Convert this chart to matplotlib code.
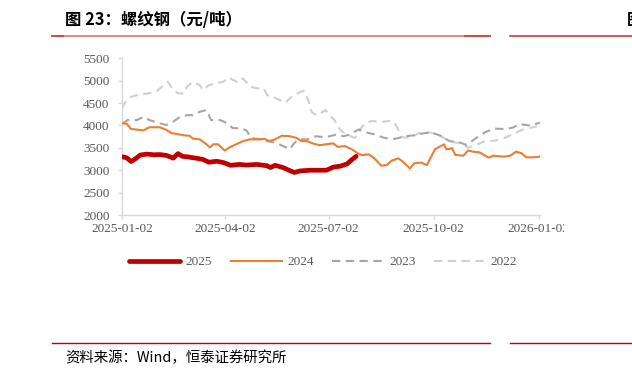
import numpy as np
import pandas as pd
import matplotlib.pyplot as plt
import matplotlib.dates as mdates
from matplotlib.transforms import Bbox, TransformedBbox

plt.rcParams['font.family'] = ['Noto Sans CJK SC', 'DejaVu Sans']

base = pd.Timestamp('2025-01-02')

# day offsets from 2025-01-02 (each year mapped onto the same calendar axis)
days_2025 = [0, 4, 8, 12, 16, 22, 28, 33, 39, 45, 49, 53, 57, 62, 67, 71, 76, 83, 89, 95,
             103, 109, 118, 127, 130, 134, 141, 147, 151, 156, 165, 173, 179, 185, 191,
             197, 201, 205]
vals_2025 = [3300, 3280, 3195, 3260, 3340, 3360, 3345, 3350, 3330, 3270, 3370, 3310, 3300,
             3280, 3260, 3240, 3180, 3200, 3170, 3110, 3130, 3115, 3130, 3100, 3060, 3110,
             3060, 2990, 2950, 2985, 3000, 3000, 3000, 3070, 3090, 3140, 3230, 3310]

days_2024 = [0, 4, 8, 16, 19, 24, 33, 39, 43, 48, 54, 59, 62, 68, 74, 77, 80, 84, 89, 90,
             94, 100, 106, 112, 121, 125, 129, 134, 140, 147, 153, 157, 162, 168, 173, 179,
             185, 189, 195, 201, 207, 210, 216, 221, 227, 232, 236, 242, 246, 252, 256,
             262, 267, 270, 274, 278, 282, 284, 289, 292, 299, 303, 307, 313, 321, 325,
             334, 340, 345, 350, 354, 360, 366]
vals_2024 = [4048, 4040, 3920, 3900, 3890, 3960, 3960, 3900, 3830, 3810, 3780, 3770, 3710,
             3690, 3580, 3510, 3580, 3580, 3460, 3440, 3510, 3580, 3650, 3690, 3690, 3700,
             3650, 3690, 3770, 3760, 3720, 3650, 3650, 3590, 3560, 3580, 3600, 3520, 3540,
             3470, 3370, 3340, 3355, 3266, 3100, 3115, 3213, 3266, 3190, 3043, 3155, 3170,
             3115, 3266, 3467, 3525, 3578, 3467, 3490, 3340, 3325, 3440, 3415, 3400, 3280,
             3325, 3303, 3325, 3415, 3378, 3288, 3288, 3303]

days_2023 = [0, 5, 13, 19, 24, 33, 39, 45, 51, 57, 62, 68, 74, 78, 86, 92, 97, 103, 109,
             113, 121, 127, 135, 141, 147, 150, 154, 162, 170, 176, 182, 188, 194, 200,
             207, 213, 221, 230, 239, 248, 256, 265, 272, 278, 287, 296, 302, 309, 318,
             326, 335, 342, 348, 357, 366]
vals_2023 = [4040, 4122, 4120, 4195, 4120, 4050, 4010, 4085, 4195, 4230, 4230, 4305, 4345,
             4120, 4120, 4050, 3940, 3940, 3890, 3720, 3690, 3650, 3610, 3540, 3470, 3580,
             3690, 3690, 3760, 3740, 3760, 3800, 3760, 3800, 3910, 3850, 3800, 3720, 3700,
             3760, 3780, 3830, 3830, 3780, 3650, 3620, 3560, 3700, 3850, 3930, 3920, 3950,
             4030, 4000, 4060]

days_2022 = [0, 3, 8, 16, 22, 30, 35, 40, 45, 49, 54, 57, 62, 68, 71, 76, 83, 89, 93, 97,
             102, 106, 112, 118, 124, 127, 132, 138, 143, 147, 153, 159, 163, 166, 170,
             173, 178, 182, 186, 191, 195, 200, 204, 208, 213, 219, 226, 235, 239, 242,
             245, 252, 259, 268, 277, 283, 291, 298, 303, 309, 318, 326, 335, 344, 353,
             360, 366]
vals_2022 = [4380, 4530, 4640, 4700, 4710, 4755, 4865, 4977, 4790, 4720, 4710, 4865, 4977,
             4900, 4790, 4900, 4940, 4980, 5075, 5020, 4960, 5050, 4865, 4830, 4830, 4680,
             4640, 4570, 4500, 4610, 4710, 4775, 4570, 4300, 4230, 4250, 4345, 4230, 4120,
             3900, 3830, 3760, 3720, 3900, 4050, 4100, 4080, 4100, 4050, 3900, 3740, 3720,
             3820, 3850, 3800, 3700, 3620, 3600, 3500, 3560, 3650, 3660, 3720, 3830, 3930,
             3960, 4000]

tick_dates = ['2025-01-02', '2025-04-02', '2025-07-02', '2025-10-02', '2026-01-02']


def to_dates(d):
    return base + pd.to_timedelta(d, unit='D')


fig = plt.figure(figsize=(6.32, 3.81), dpi=100)
ax = fig.add_axes([122 / 632, 1 - 215 / 381, 418 / 632, (215 - 58.3) / 381])

ax.plot(to_dates(days_2022), vals_2022, color='#D0D0D0', lw=1.5, dashes=(4, 2.6), label='2022', zorder=1)
ax.plot(to_dates(days_2023), vals_2023, color='#A6A6A6', lw=1.5, dashes=(4, 2.6), label='2023', zorder=2)
ax.plot(to_dates(days_2024), vals_2024, color='#ED7D31', lw=1.5, label='2024', zorder=3)
ax.plot(to_dates(days_2025), vals_2025, color='#C00000', lw=3.4, solid_capstyle='round', label='2025', zorder=4)

ax.set_ylim(2000, 5500)
ax.set_yticks(np.arange(2000, 5501, 500))
ax.set_xlim(base, base + pd.Timedelta(days=366))
ax.set_xticks(pd.to_datetime(tick_dates))
ax.xaxis.set_major_formatter(mdates.DateFormatter('%Y-%m-%d'))

for s in ['top', 'right']:
    ax.spines[s].set_visible(False)
for s in ['left', 'bottom']:
    ax.spines[s].set_color('#D9D9D9')
    ax.spines[s].set_linewidth(1.0)
ax.tick_params(axis='both', colors='#D9D9D9', labelcolor='#595959', length=3, width=1.0,
               labelsize=9.5)
ax.tick_params(axis='y', pad=6)
ax.tick_params(axis='x', pad=3)
for lab in ax.get_xticklabels() + ax.get_yticklabels():
    lab.set_fontfamily('Liberation Serif')

# the last date label is cut off at the right edge of the chart picture
last = ax.get_xticklabels()[-1]
last.set_clip_on(True)
last.set_clip_box(TransformedBbox(Bbox([[0, 0], [564 / 632, 1]]), fig.transFigure))

handles, labels = ax.get_legend_handles_labels()
order = [3, 2, 1, 0]
leg = fig.legend([handles[i] for i in order], [labels[i] for i in order], loc='center',
                 bbox_to_anchor=(323 / 632, 1 - 262 / 381), ncol=4, frameon=False,
                 handlelength=3.9, handletextpad=0.4, columnspacing=1.4,
                 prop={'family': 'Liberation Serif', 'size': 9.5})
for t in leg.get_texts():
    t.set_color('#595959')

# title, header/footer rules and source note
fig.text(65 / 632, 1 - 20 / 381, '图 23：螺纹钢（元/吨）', fontsize=11.8, fontweight='bold',
         va='center', ha='left', color='black')
fig.text(627 / 632, 1 - 20 / 381, '图', fontsize=11.8, fontweight='bold', va='center', ha='left')
fig.add_artist(plt.Line2D([52 / 632, 490 / 632], [1 - 35.5 / 381] * 2, color='#E57373', lw=1.2))
fig.add_artist(plt.Line2D([52 / 632, 63 / 632], [1 - 35.5 / 381] * 2, color='#D43C3C', lw=1.2))
fig.add_artist(plt.Line2D([465 / 632, 490 / 632], [1 - 35.5 / 381] * 2, color='#D43C3C', lw=1.2))
fig.add_artist(plt.Line2D([510 / 632, 1], [1 - 35.5 / 381] * 2, color='#D43C3C', lw=1.2))
fig.add_artist(plt.Line2D([52 / 632, 490 / 632], [1 - 343.3 / 381] * 2, color='#C00000', lw=1.0))
fig.add_artist(plt.Line2D([510 / 632, 1], [1 - 343.3 / 381] * 2, color='#C00000', lw=1.0))
fig.text(65 / 632, 1 - 358 / 381, '资料来源：Wind，恒泰证券研究所', fontsize=10.4,
         style='italic', va='center', ha='left', color='black')

fig.savefig('out.png', dpi=100)
